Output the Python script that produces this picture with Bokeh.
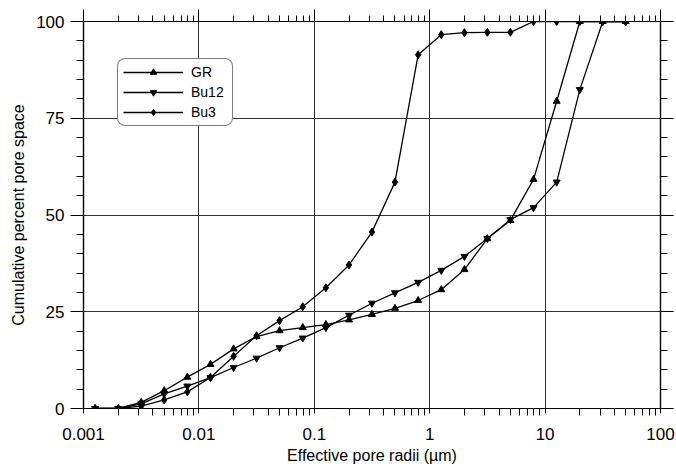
from bokeh.plotting import figure
from bokeh.models import (LogAxis, LinearAxis, FixedTicker, Legend, LegendItem, Range1d)
from bokeh.embed import file_html
from bokeh.resources import INLINE

# ---- data ----
radii = [0.00126, 0.002, 0.00316, 0.005, 0.00794, 0.0126, 0.02, 0.0316, 0.05, 0.0794,
         0.126, 0.2, 0.316, 0.5, 0.794, 1.26, 2, 3.16, 5, 7.94, 12.6, 20, 31.6, 50]
gr = [0, 0, 1.6, 4.6, 8.1, 11.4, 15.4, 18.6, 20.1, 20.9, 21.7, 22.9, 24.3, 25.9, 27.9,
      30.7, 35.9, 43.9, 48.6, 59.2, 79.4, 100, 100, 100]
bu12 = [0, 0, 1.2, 3.8, 5.8, 8.0, 10.6, 13.0, 15.7, 18.2, 20.9, 24.1, 27.2, 29.9, 32.6,
        35.7, 39.3, 43.9, 48.8, 51.9, 58.5, 82.4, 100, 100]
bu3 = [0, 0, 0.6, 2.2, 4.3, 8.0, 13.5, 18.8, 22.7, 26.3, 31.2, 37.1, 45.6, 58.5, 91.4,
       96.6, 97.1, 97.2, 97.2, 100, 100, 100, 100, 100]
series_names = ["GR", "Bu12", "Bu3"]
x_major = [0.001, 0.01, 0.1, 1, 10, 100]
x_labels = ["0.001", "0.01", "0.1", "1", "10", "100"]
y_major = [0, 25, 50, 75, 100]
y_minor = list(range(0, 101, 5))

x_minor = [m * d for d in x_major[:-1] for m in range(2, 10)]

FONT = "Liberation Sans"

p = figure(width=676, height=470, x_axis_type="log", output_backend="svg",
           toolbar_location=None, x_range=Range1d(0.001, 100), y_range=Range1d(0, 100),
           min_border_left=83, min_border_right=16, min_border_top=21, min_border_bottom=62)
p.outline_line_color = "black"
p.outline_line_width = 1.2
p.background_fill_color = "white"
p.border_fill_color = "white"

xt = FixedTicker(ticks=x_major, minor_ticks=x_minor)
yt = FixedTicker(ticks=y_major, minor_ticks=y_minor)

overrides = {v: s for v, s in zip(x_major, x_labels)}

xa = p.xaxis[0]
xa.ticker = xt
xa.major_label_overrides = overrides
xa.axis_label = "Effective pore radii (µm)"

ya = p.yaxis[0]
ya.ticker = yt
ya.axis_label = "Cumulative percent pore space"

top = LogAxis(ticker=xt, major_label_text_font_size="1px", major_label_text_color=None,
              major_label_standoff=0)
right = LinearAxis(ticker=yt, major_label_text_font_size="1px", major_label_text_color=None,
                   major_label_standoff=0)
p.add_layout(top, "above")
p.add_layout(right, "right")

for ax in [xa, ya, top, right]:
    ax.axis_line_color = "black"
    ax.axis_line_width = 1.2
    ax.major_tick_line_color = "black"
    ax.minor_tick_line_color = "black"
    ax.major_tick_in = 0
    ax.minor_tick_in = 0
    ax.major_label_text_font = FONT
    ax.axis_label_text_font = FONT
    ax.axis_label_text_font_style = "normal"
    ax.axis_label_text_color = "black"

for ax in [xa, ya]:
    ax.major_label_text_color = "black"

xa.major_tick_out = 5
xa.minor_tick_out = 7
xa.major_label_text_font_size = "17px"
xa.major_label_standoff = 12
xa.axis_label_text_font_size = "16px"
xa.axis_label_standoff = 4

ya.major_tick_out = 13
ya.minor_tick_out = 7
ya.major_label_text_font_size = "17px"
ya.major_label_standoff = 6
ya.axis_label_text_font_size = "16px"
ya.axis_label_standoff = 6

top.major_tick_out = 12
top.minor_tick_out = 6
right.major_tick_out = 13
right.minor_tick_out = 7

p.xgrid.grid_line_color = "#333333"
p.xgrid.grid_line_width = 1
p.ygrid.grid_line_color = "#333333"
p.ygrid.grid_line_width = 1

markers = ["triangle", "inverted_triangle", "diamond"]
sizes = [7, 7, 8]
items = []
for name, ys, mk, sz in zip(series_names, [gr, bu12, bu3], markers, sizes):
    ln = p.line(radii, ys, line_color="black", line_width=1.3)
    sc = p.scatter(radii, ys, marker=mk, size=sz, fill_color="black", line_color="black")
    items.append(LegendItem(label=name, renderers=[ln, sc]))

leg = Legend(items=items, location=(34, 282), orientation="vertical",
             label_text_font=FONT, label_text_font_size="14px", label_text_color="black",
             glyph_width=60, glyph_height=16, label_height=16, label_width=36,
             spacing=4, padding=5, margin=0, label_standoff=8,
             border_line_color="black", border_line_width=1.2,
             background_fill_color="white", background_fill_alpha=1)
if "border_radius" in Legend.properties():
    leg.border_radius = 8
p.add_layout(leg, "center")

open("out.html", "w").write(file_html(p, INLINE))
